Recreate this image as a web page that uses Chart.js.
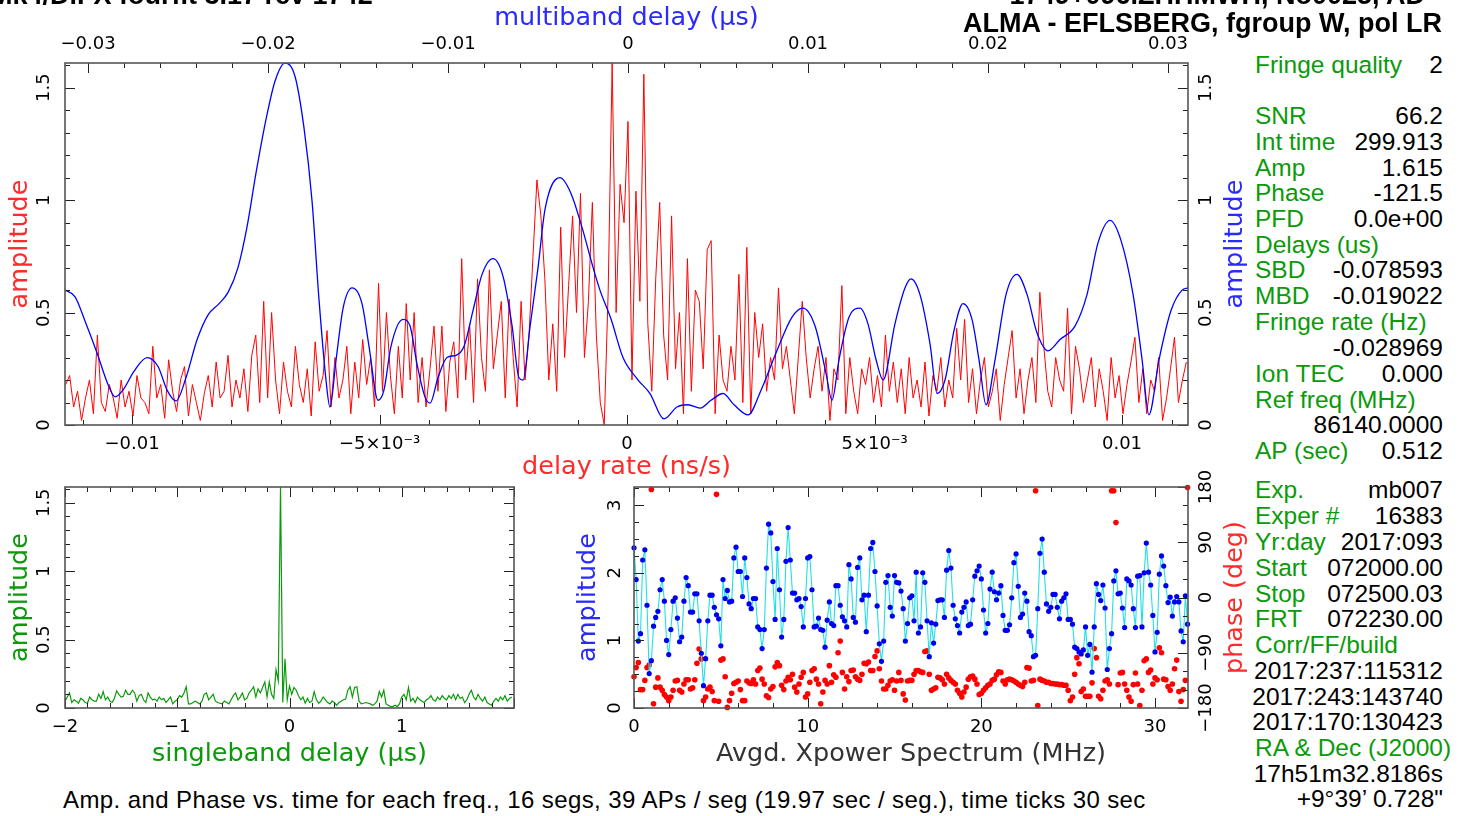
<!DOCTYPE html>
<html>
<head>
<meta charset="utf-8">
<script src="https://cdn.jsdelivr.net/npm/chart.js@4.4.1/dist/chart.umd.min.js"></script>
<style>
html, body { margin: 0; padding: 0; background: #fff; width: 1468px; height: 816px; overflow: hidden;
  font-family: "Liberation Sans", Arial, sans-serif; }
canvas { position: absolute; }
#fringe { left: 0; top: 0; }
#sbd { left: 0; top: 460px; }
#spec { left: 560px; top: 460px; }
.t { position: absolute; white-space: nowrap; }
.g { color: #0a9a0a; }
.k { color: #000; }
.hd { position: absolute; white-space: nowrap; font-size: 27px; line-height: 32px; font-weight: bold; color: #000; }
.row { position: absolute; left: 1255px; width: 188px; font-size: 24.5px; line-height: 26px; white-space: nowrap; }
.row .g { position: absolute; left: 0; }
.row .k { position: absolute; right: 0; }
</style>
</head>
<body>
<canvas id="fringe" width="1250" height="480"></canvas>
<canvas id="sbd" width="560" height="310"></canvas>
<canvas id="spec" width="690" height="310"></canvas>

<div class="hd" style="left:-10px; top:-21px;">Mk4/DiFX fourfit 3.17 rev 1742</div>
<div class="hd" style="right:43px; top:-21px;">1749+096.ZHHMWH, No0025, AD</div>
<div class="hd" style="right:26px; top:7px;">ALMA - EFLSBERG, fgroup W, pol LR</div>

<div id="panel"></div>

<div class="t k" style="left:63px; top:786px; font-size:24px; line-height:28px; letter-spacing:0.4px;">Amp. and Phase vs. time for each freq., 16 segs, 39 APs / seg (19.97 sec / seg.), time ticks 30 sec</div>

<script>
// ===== fringe plot data =====

// delay rate spectrum (red), uniform grid in ns/s
const rateStart = -0.01134;
const rateStep = 0.00008;
const rateAmp = [
  0.18,0.22,0.08,0.15,0.02,0.12,0.20,0.05,0.40,0.10,
  0.06,0.18,0.12,0.03,0.20,0.08,0.15,0.04,0.22,0.12,
  0.10,0.05,0.35,0.12,0.18,0.03,0.29,0.15,0.06,0.20,
  0.26,0.04,0.18,0.10,0.02,0.14,0.22,0.08,0.28,0.12,
  0.15,0.31,0.08,0.20,0.12,0.25,0.06,0.31,0.40,0.10,
  0.55,0.12,0.50,0.20,0.05,0.28,0.15,0.08,0.35,0.18,
  0.10,0.25,0.04,0.37,0.15,0.22,0.42,0.08,0.30,0.12,
  0.20,0.35,0.05,0.28,0.12,0.38,0.18,0.30,0.08,0.63,
  0.15,0.50,0.22,0.05,0.35,0.12,0.54,0.20,0.50,0.10,
  0.30,0.08,0.25,0.44,0.15,0.44,0.06,0.28,0.37,0.12,
  0.74,0.20,0.45,0.10,0.65,0.30,0.15,0.69,0.25,0.40,
  0.55,0.12,0.56,0.30,0.08,0.55,0.20,0.40,0.75,1.09,
  0.93,0.65,0.20,0.45,0.15,0.88,0.30,0.62,0.93,0.50,
  1.03,0.30,0.55,0.99,0.40,0.10,0.00,0.60,1.61,0.50,
  1.07,0.90,1.35,0.20,1.04,0.55,1.56,0.45,0.15,0.65,
  0.99,0.40,0.20,0.93,0.25,0.50,0.05,0.74,0.15,0.60,
  0.55,0.25,0.78,0.82,0.05,0.40,0.20,0.15,0.35,0.20,
  0.67,0.10,0.79,0.05,0.50,0.30,0.45,0.15,0.30,0.20,
  0.61,0.25,0.35,0.20,0.05,0.30,0.55,0.30,0.12,0.25,
  0.35,0.15,0.30,0.02,0.25,0.20,0.62,0.05,0.30,0.15,
  0.05,0.25,0.18,0.30,0.10,0.22,0.08,0.40,0.15,0.28,
  0.10,0.25,0.05,0.30,0.12,0.20,0.08,0.28,0.04,0.22,
  0.15,0.30,0.08,0.20,0.12,0.43,0.20,0.47,0.10,0.25,
  0.05,0.20,0.30,0.08,0.15,0.25,0.02,0.18,0.30,0.42,
  0.12,0.25,0.05,0.20,0.30,0.10,0.59,0.35,0.15,0.08,
  0.30,0.20,0.15,0.52,0.05,0.35,0.25,0.10,0.20,0.30,
  0.08,0.25,0.15,0.02,0.30,0.12,0.22,0.05,0.18,0.28,
  0.39,0.10,0.25,0.05,0.20,0.15,0.30,0.02,0.12,0.25,
  0.39,0.10,0.20,0.28
];

// multiband delay function (blue), us
const mbdDelay = [
  -0.03128,-0.03072,-0.03011,-0.02950,-0.02889,-0.02850,-0.02806,-0.02744,-0.02672,-0.02611,
  -0.02561,-0.02511,-0.02456,-0.02394,-0.02333,-0.02272,-0.02222,-0.02167,-0.02117,-0.02067,
  -0.02011,-0.01961,-0.01906,-0.01850,-0.01800,-0.01756,-0.01717,-0.01678,-0.01656,-0.01622,
  -0.01583,-0.01533,-0.01478,-0.01439,-0.01389,-0.01356,-0.01317,-0.01250,-0.01211,-0.01172,
  -0.01128,-0.01100,-0.01056,-0.01006,-0.00956,-0.00911,-0.00861,-0.00811,-0.00750,-0.00694,
  -0.00644,-0.00606,-0.00583,-0.00544,-0.00500,-0.00461,-0.00378,-0.00317,-0.00256,-0.00194,
  -0.00156,-0.00094,-0.00028,0.00056,0.00122,0.00200,0.00272,0.00333,0.00400,0.00461,
  0.00528,0.00589,0.00667,0.00739,0.00822,0.00911,0.00972,0.01039,0.01100,0.01133,
  0.01172,0.01228,0.01289,0.01333,0.01378,0.01417,0.01483,0.01539,0.01572,0.01622,
  0.01678,0.01717,0.01761,0.01811,0.01861,0.01911,0.01950,0.01989,0.02039,0.02100,
  0.02161,0.02217,0.02272,0.02333,0.02400,0.02483,0.02550,0.02611,0.02678,0.02739,
  0.02806,0.02856,0.02894,0.02950,0.03017,0.03078,0.03111
];
const mbdAmp = [
  0.60,0.57,0.45,0.32,0.18,0.125,0.155,0.24,0.30,0.26,
  0.155,0.107,0.21,0.38,0.49,0.54,0.59,0.70,0.88,1.12,
  1.36,1.53,1.61,1.55,1.32,1.00,0.56,0.20,0.08,0.29,
  0.52,0.61,0.54,0.35,0.11,0.155,0.35,0.47,0.44,0.27,
  0.125,0.097,0.21,0.30,0.31,0.35,0.51,0.67,0.74,0.66,
  0.44,0.21,0.20,0.44,0.70,0.96,1.10,1.03,0.88,0.70,
  0.60,0.47,0.30,0.20,0.14,0.027,0.08,0.09,0.075,0.11,
  0.14,0.09,0.045,0.155,0.32,0.48,0.52,0.44,0.23,0.11,
  0.29,0.48,0.52,0.45,0.29,0.20,0.45,0.61,0.65,0.58,
  0.36,0.14,0.20,0.42,0.54,0.47,0.29,0.09,0.29,0.58,
  0.67,0.58,0.41,0.33,0.38,0.44,0.58,0.81,0.91,0.82,
  0.58,0.29,0.045,0.29,0.51,0.60,0.61
];

// singleband delay function (green), uniform grid in us
const sbdStart = -2.0;
const sbdStep = 0.02;
const sbdAmp = [
  0.05,0.08,0.11,0.04,0.06,0.05,0.035,0.07,0.06,0.04,
  0.035,0.08,0.06,0.05,0.05,0.10,0.07,0.12,0.06,0.08,
  0.05,0.04,0.07,0.125,0.10,0.08,0.085,0.13,0.10,0.10,
  0.13,0.11,0.05,0.09,0.10,0.06,0.04,0.11,0.08,0.06,
  0.065,0.05,0.08,0.06,0.07,0.04,0.06,0.08,0.03,0.05,
  0.06,0.09,0.08,0.11,0.155,0.03,0.03,0.04,0.05,0.04,
  0.03,0.05,0.10,0.11,0.06,0.08,0.10,0.05,0.04,0.035,
  0.03,0.05,0.04,0.03,0.06,0.09,0.11,0.06,0.08,0.11,
  0.06,0.07,0.11,0.13,0.155,0.08,0.14,0.11,0.15,0.19,
  0.08,0.19,0.10,0.07,0.28,0.20,1.615,0.04,0.36,0.06,
  0.16,0.10,0.15,0.13,0.09,0.06,0.08,0.035,0.07,0.04,
  0.05,0.12,0.06,0.035,0.05,0.08,0.06,0.04,0.03,0.05,
  0.04,0.02,0.04,0.05,0.06,0.065,0.13,0.155,0.08,0.15,
  0.155,0.05,0.03,0.035,0.04,0.035,0.03,0.02,0.03,0.05,
  0.12,0.08,0.13,0.03,0.02,0.01,0.01,0.02,0.01,0.03,
  0.08,0.10,0.06,0.15,0.05,0.07,0.04,0.08,0.06,0.05,
  0.04,0.06,0.07,0.09,0.06,0.05,0.08,0.06,0.09,0.07,
  0.06,0.09,0.07,0.10,0.06,0.10,0.07,0.08,0.04,0.06,
  0.10,0.13,0.08,0.06,0.10,0.07,0.05,0.08,0.04,0.03,
  0.02,0.05,0.07,0.05,0.08,0.06,0.09,0.05,0.07,0.08
];

// averaged cross-power spectrum, 256 channels of 0.125 MHz
const specStep = 0.125;
const specAmp = [
  2.37,1.90,0.99,1.10,2.19,2.34,1.52,0.51,0.70,1.21,
  1.34,1.43,1.75,1.90,1.58,1.00,0.79,1.16,1.58,1.63,
  1.33,0.98,1.05,1.58,1.93,1.81,1.42,1.42,1.69,1.69,
  1.29,0.81,0.33,0.73,1.29,1.67,1.67,1.49,1.38,1.32,
  0.92,1.90,1.62,1.74,1.57,1.58,2.22,2.38,2.02,2.02,
  1.65,2.22,1.93,1.54,1.47,1.62,1.62,1.20,1.16,0.88,
  1.16,2.07,2.72,2.59,1.87,1.31,2.36,1.75,1.05,1.31,
  2.17,2.67,2.19,1.70,1.70,1.60,1.62,1.50,1.20,1.62,
  2.22,2.24,1.75,1.20,1.21,1.33,1.16,1.15,0.90,1.30,
  1.57,1.25,1.22,1.81,1.81,1.52,1.35,1.29,1.20,2.12,
  1.91,1.34,1.27,2.08,2.22,1.60,1.67,1.13,1.67,2.36,
  2.45,2.02,1.51,0.95,0.69,0.99,1.86,1.96,1.49,1.36,
  1.96,1.86,1.85,1.73,1.47,0.99,1.25,1.63,1.66,1.29,
  2.01,1.11,1.20,2.00,1.86,1.29,0.76,1.26,0.96,1.24,
  1.59,1.60,1.60,1.34,2.04,2.33,2.07,1.52,1.32,1.22,
  1.11,1.42,1.49,1.57,1.22,1.24,1.60,1.95,2.03,2.10,
  1.91,1.45,1.11,1.25,1.76,2.01,1.72,1.60,1.70,1.81,
  1.37,1.15,1.15,1.23,1.63,2.15,2.28,1.80,1.34,1.39,
  1.70,1.58,1.13,1.07,0.76,0.78,1.47,2.29,2.50,2.01,
  1.54,1.43,1.49,1.68,1.68,1.49,1.32,1.58,1.63,1.69,
  1.31,1.31,1.24,0.90,0.88,0.83,0.80,0.86,1.20,0.78,
  0.94,0.53,1.20,1.84,1.68,1.59,1.82,1.48,0.57,0.88,
  1.10,1.88,2.03,1.69,1.70,1.48,1.19,1.91,1.88,1.82,
  1.47,1.19,1.95,1.96,1.20,2.00,2.44,2.01,1.82,1.37,
  0.83,1.12,1.98,2.25,2.10,1.81,1.56,1.64,1.36,1.57,
  1.65,1.57,1.14,0.98,1.66,1.24
];
const specPhase = [
  -129,-114,-106,-150,-150,-135,-114,-110,176,-173,
  -146,-131,-146,-151,-158,-162,-168,-162,-151,-136,
  -135,-151,-154,-141,-134,-134,-149,-147,-134,-107,
  -84,-100,-168,-162,-149,-146,-153,-168,168,-169,
  -102,-100,-129,-179,-168,-156,-140,-138,-136,-150,
  -168,-168,-136,-139,-140,-134,-141,-119,-115,-133,
  -141,-160,-163,-149,-145,-113,-106,-111,-143,-150,
  -136,-130,-134,-125,-146,-154,-141,-130,-122,-162,
  -157,-138,-119,-116,-133,-141,-173,-154,-135,-141,
  -111,-138,-126,-130,-90,-71,-122,-149,-129,-137,
  -119,-118,-129,-133,-135,-125,-107,-108,-105,-119,
  -119,-96,-87,-116,-136,-149,-149,-143,-136,-134,
  -151,-136,-122,-135,-157,-167,-136,-135,-135,-125,
  -119,-119,-121,-122,-88,-87,-125,-151,-149,-147,
  -130,-131,-134,-141,-125,-131,-135,-138,-141,-151,
  -156,-162,-154,-146,-133,-129,-128,-133,-141,-158,
  -156,-151,-147,-143,-141,-135,-133,-126,-121,-122,
  -136,-141,-134,-133,-134,-136,-138,-141,-143,-145,
  -138,-114,-115,-136,-135,174,-176,-133,-135,-136,
  -138,-138,-140,-140,-141,-141,-142,-142,-143,-143,
  -151,-168,-162,-125,-98,-108,-153,-149,-161,-161,
  -161,-139,-83,-98,-161,-165,-151,-136,-134,-141,
  174,174,122,-142,-123,-122,-141,-151,-162,-169,
  -142,-123,-141,-176,-151,-103,-100,-122,-118,-141,
  -131,-134,-82,-90,-133,-134,-145,-151,-141,-116,
  -102,-153,-169,-150,-135,179
];

// tick values and their labels
const rateTicks = [-0.01, -0.005, 0, 0.005, 0.01];
const rateTickText = ['\u22120.01', '\u22125\u00d710\u207b\u00b3', '0', '5\u00d710\u207b\u00b3', '0.01'];
const mbdTicks = [-0.03, -0.02, -0.01, 0, 0.01, 0.02, 0.03];
const mbdTickText = ['\u22120.03', '\u22120.02', '\u22120.01', '0', '0.01', '0.02', '0.03'];
const ampTicks = [0, 0.5, 1, 1.5];
const ampTickText = ['0', '0.5', '1', '1.5'];
const sbdTicks = [-2, -1, 0, 1];
const sbdTickText = ['\u22122', '\u22121', '0', '1'];
const freqTicks = [0, 10, 20, 30];
const freqTickText = ['0', '10', '20', '30'];
const specAmpTicks = [0, 1, 2, 3];
const specAmpTickText = ['0', '1', '2', '3'];
const phaseTicks = [-180, -90, 0, 90, 180];
const phaseTickText = ['\u2212180', '\u221290', '0', '90', '180'];

// right hand text panel: [label, value, y]
const panelRows = [
  ['Fringe quality', '2', 65],
  ['SNR', '66.2', 116],
  ['Int time', '299.913', 142],
  ['Amp', '1.615', 168],
  ['Phase', '-121.5', 193],
  ['PFD', '0.0e+00', 219],
  ['Delays (us)', '', 245],
  ['SBD', '-0.078593', 270],
  ['MBD', '-0.019022', 296],
  ['Fringe rate (Hz)', '', 322],
  ['', '-0.028969', 348],
  ['Ion TEC', '0.000', 374],
  ['Ref freq (MHz)', '', 400],
  ['', '86140.0000', 425],
  ['AP (sec)', '0.512', 451],
  ['Exp.', 'mb007', 490],
  ['Exper #', '16383', 516],
  ['Yr:day', '2017:093', 542],
  ['Start', '072000.00', 568],
  ['Stop', '072500.03', 594],
  ['FRT', '072230.00', 619],
  ['Corr/FF/build', '', 645],
  ['', '2017:237:115312', 671],
  ['', '2017:243:143740', 697],
  ['', '2017:170:130423', 722],
  ['RA & Dec (J2000)', '', 748],
  ['', '17h51m32.8186s', 774],
  ['', '+9\u00b039\u2019 0.728"', 799]
];

const panel = document.getElementById('panel');
panelRows.forEach(r => {
  const d = document.createElement('div');
  d.className = 'row';
  d.style.top = (r[2] - 13) + 'px';
  if (r[0]) { const s = document.createElement('span'); s.className = 'g'; s.textContent = r[0]; d.appendChild(s); }
  if (r[1]) { const s = document.createElement('span'); s.className = 'k'; s.textContent = r[1]; d.appendChild(s); }
  panel.appendChild(d);
});

// ===== helpers =====
const PLOT_FONT = "'DejaVu Sans', sans-serif";
const TITLE_SIZE = 25.5;
const RED = '#ff0000', BLUE = '#0000ff', GREEN = '#0a9a0a';
const RED_T = '#ff2a2a', BLUE_T = '#2a2aff';

// PGPLOT style frame, inward ticks, rotated y labels and right-hand titles
function pgFrame(cfg) {
  return {
    id: 'pgFrame',
    afterDatasetsDraw(chart) {
      const ctx = chart.ctx;
      const a = chart.chartArea;
      ctx.save();
      ctx.strokeStyle = '#222';
      ctx.lineWidth = 1;
      cfg.ticks.forEach(t => {
        const s = chart.scales[t.id];
        const k0 = Math.ceil(s.min / t.minor - 1e-6);
        const k1 = Math.floor(s.max / t.minor + 1e-6);
        ctx.beginPath();
        for (let k = k0; k <= k1; k++) {
          const v = k * t.minor;
          const r = v / t.major;
          const len = Math.abs(r - Math.round(r)) < 1e-6 ? 10 : 5;
          const p = Math.round(s.getPixelForValue(v)) + 0.5;
          t.sides.forEach(side => {
            if (side === 'bottom') { ctx.moveTo(p, a.bottom); ctx.lineTo(p, a.bottom - len); }
            if (side === 'top') { ctx.moveTo(p, a.top); ctx.lineTo(p, a.top + len); }
            if (side === 'left') { ctx.moveTo(a.left, p); ctx.lineTo(a.left + len, p); }
            if (side === 'right') { ctx.moveTo(a.right, p); ctx.lineTo(a.right - len, p); }
          });
        }
        ctx.stroke();
      });
      ctx.strokeStyle = '#555';
      ctx.lineWidth = 1.6;
      ctx.strokeRect(a.left, a.top, a.right - a.left, a.bottom - a.top);

      ctx.fillStyle = '#000';
      ctx.font = '18px ' + PLOT_FONT;
      ctx.textAlign = 'center';
      ctx.textBaseline = 'middle';
      cfg.ylabels.forEach(l => {
        const s = chart.scales[l.id];
        l.values.forEach((v, i) => {
          ctx.save();
          ctx.translate(l.x, s.getPixelForValue(v));
          ctx.rotate(-Math.PI / 2);
          ctx.fillText(l.text[i], 0, 0);
          ctx.restore();
        });
      });
      (cfg.titles || []).forEach(tt => {
        ctx.save();
        ctx.fillStyle = tt.color;
        ctx.font = TITLE_SIZE + 'px ' + PLOT_FONT;
        ctx.translate(tt.x, (a.top + a.bottom) / 2);
        ctx.rotate(-Math.PI / 2);
        ctx.fillText(tt.text, 0, 0);
        ctx.restore();
      });
      ctx.restore();
    }
  };
}

function xAxis(pos, min, max, ticks, text, height, pad, title, titleColor, titlePad) {
  return {
    type: 'linear', position: pos, min: min, max: max,
    afterBuildTicks: s => { s.ticks = ticks.map(v => ({ value: v })); },
    afterFit: s => { s.height = height; },
    grid: { display: false, drawTicks: false },
    border: { display: false },
    ticks: {
      autoSkip: false, maxRotation: 0, padding: pad, color: '#000',
      font: { family: PLOT_FONT, size: 18 },
      callback: (v, i) => text[i]
    },
    title: {
      display: true, text: title, color: titleColor,
      font: { family: PLOT_FONT, size: TITLE_SIZE }, padding: titlePad
    }
  };
}

function yAxis(pos, min, max, width, title, titleColor, titlePad) {
  return {
    type: 'linear', position: pos, min: min, max: max,
    afterFit: s => { s.width = width; },
    grid: { display: false, drawTicks: false },
    border: { display: false },
    ticks: { display: false },
    title: {
      display: !!title, text: title || '', color: titleColor,
      font: { family: PLOT_FONT, size: TITLE_SIZE }, padding: titlePad
    }
  };
}

const common = {
  responsive: false,
  animation: false,
  events: [],
  plugins: { legend: { display: false }, tooltip: { enabled: false } }
};

// ===== top: delay rate + multiband delay =====
new Chart(document.getElementById('fringe'), {
  type: 'line',
  data: {
    datasets: [
      {
        data: mbdDelay.map((x, i) => ({ x: x, y: mbdAmp[i] })),
        xAxisID: 'xMbd', yAxisID: 'yMbd',
        borderColor: BLUE, borderWidth: 1.3, pointRadius: 0,
        cubicInterpolationMode: 'monotone'
      },
      {
        data: rateAmp.map((y, i) => ({ x: rateStart + i * rateStep, y: y })),
        xAxisID: 'xRate', yAxisID: 'yRate',
        borderColor: RED, borderWidth: 1, pointRadius: 0, tension: 0
      }
    ]
  },
  options: Object.assign({}, common, {
    layout: { padding: 0 },
    scales: {
      xRate: xAxis('bottom', -0.011354, 0.011333, rateTicks, rateTickText, 55, 9,
        'delay rate (ns/s)', RED_T, { bottom: -3 }),
      xMbd: xAxis('top', -0.03128, 0.03111, mbdTicks, mbdTickText, 63, 8,
        'multiband delay (\u03bcs)', BLUE_T, { top: 3 }),
      yRate: yAxis('left', 0, 1.61, 65, 'amplitude', RED_T, { top: 5 }),
      yMbd: yAxis('right', 0, 1.61, 62, '', BLUE_T, 0)
    }
  }),
  plugins: [pgFrame({
    ticks: [
      { id: 'xRate', minor: 0.001, major: 0.005, sides: ['bottom'] },
      { id: 'xMbd', minor: 0.002, major: 0.01, sides: ['top'] },
      { id: 'yRate', minor: 0.1, major: 0.5, sides: ['left'] },
      { id: 'yMbd', minor: 0.1, major: 0.5, sides: ['right'] }
    ],
    ylabels: [
      { id: 'yRate', x: 44, values: ampTicks, text: ampTickText },
      { id: 'yMbd', x: 1206, values: ampTicks, text: ampTickText }
    ],
    titles: [{ x: 1235, text: 'amplitude', color: BLUE_T }]
  })]
});

// ===== bottom left: singleband delay =====
new Chart(document.getElementById('sbd'), {
  type: 'line',
  data: {
    datasets: [{
      data: sbdAmp.map((y, i) => ({ x: sbdStart + i * sbdStep, y: y })),
      xAxisID: 'x', yAxisID: 'y',
      borderColor: GREEN, borderWidth: 1.2, pointRadius: 0, tension: 0
    }]
  },
  options: Object.assign({}, common, {
    layout: { padding: { top: 27, right: 46 } },
    scales: {
      x: xAxis('bottom', -2.0, 2.0, sbdTicks, sbdTickText, 62, 9,
        'singleband delay (\u03bcs)', GREEN, { bottom: 0 }),
      y: yAxis('left', 0, 1.615, 65, 'amplitude', GREEN, { top: 5 })
    }
  }),
  plugins: [pgFrame({
    ticks: [
      { id: 'x', minor: 0.2, major: 1, sides: ['bottom', 'top'] },
      { id: 'y', minor: 0.1, major: 0.5, sides: ['left', 'right'] }
    ],
    ylabels: [{ id: 'y', x: 44, values: ampTicks, text: ampTickText }]
  })]
});

// ===== bottom right: averaged cross-power spectrum =====
new Chart(document.getElementById('spec'), {
  type: 'line',
  data: {
    datasets: [
      {
        data: specAmp.map((y, i) => ({ x: i * specStep, y: y })),
        xAxisID: 'x', yAxisID: 'yAmp',
        borderColor: '#20e0e8', borderWidth: 1.1, tension: 0,
        pointRadius: 2.6, pointBackgroundColor: '#0000ee', pointBorderWidth: 0,
        clip: 6
      },
      {
        data: specPhase.map((y, i) => ({ x: i * specStep, y: y })),
        xAxisID: 'x', yAxisID: 'yPh',
        showLine: false,
        pointRadius: 2.8, pointBackgroundColor: RED, pointBorderWidth: 0,
        clip: 6
      }
    ]
  },
  options: Object.assign({}, common, {
    layout: { padding: { top: 27 } },
    scales: {
      x: xAxis('bottom', 0, 31.9, freqTicks, freqTickText, 62, 9,
        'Avgd. Xpower Spectrum (MHz)', '#333', { bottom: 0 }),
      yAmp: yAxis('left', 0, 3.27, 74, 'amplitude', BLUE_T, { top: 13 }),
      yPh: yAxis('right', -180, 180, 62, '', RED_T, 0)
    }
  }),
  plugins: [pgFrame({
    ticks: [
      { id: 'x', minor: 2, major: 10, sides: ['bottom', 'top'] },
      { id: 'yAmp', minor: 0.25, major: 1, sides: ['left'] },
      { id: 'yPh', minor: 30, major: 90, sides: ['right'] }
    ],
    ylabels: [
      { id: 'yAmp', x: 55, values: specAmpTicks, text: specAmpTickText },
      { id: 'yPh', x: 646, values: phaseTicks, text: phaseTickText }
    ],
    titles: [{ x: 675, text: 'phase (deg)', color: RED_T }]
  })]
});
</script>
</body>
</html>
